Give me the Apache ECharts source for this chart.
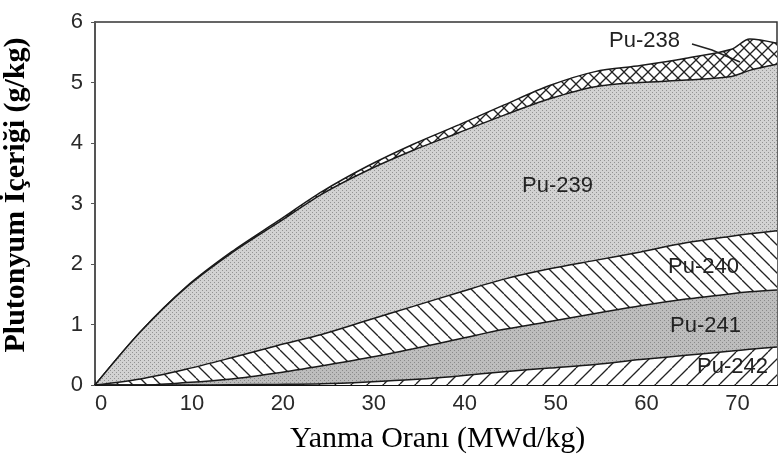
<!DOCTYPE html>
<html>
<head>
<meta charset="utf-8">
<script src="https://cdn.jsdelivr.net/npm/echarts@6/dist/echarts.min.js"></script>
<style>
  html, body { margin: 0; padding: 0; background: #fff; }
  #chart { width: 779px; height: 468px; }
</style>
</head>
<body>
<div id="chart"></div>
<script>
// burnup (MWd/kg) and the thickness of each isotope band (g/kg), stacked bottom -> top
const burnup = [0, 5, 10, 15, 20, 25, 30, 35, 40, 45, 50, 55, 60, 65, 70, 72, 75];
const pu242 = [0, 0, 0, 0.005, 0.01, 0.02, 0.05, 0.09, 0.15, 0.22, 0.28, 0.34, 0.42, 0.49, 0.56, 0.59, 0.63];
const pu241 = [0, 0, 0.04, 0.095, 0.19, 0.30, 0.40, 0.51, 0.61, 0.70, 0.77, 0.84, 0.89, 0.93, 0.95, 0.95, 0.94];
const pu240 = [0, 0.10, 0.22, 0.35, 0.45, 0.52, 0.62, 0.70, 0.77, 0.83, 0.87, 0.88, 0.89, 0.93, 0.95, 0.96, 0.98];
const pu239 = [0, 0.78, 1.35, 1.73, 2.02, 2.32, 2.48, 2.58, 2.64, 2.71, 2.81, 2.87, 2.80, 2.69, 2.64, 2.70, 2.75];
const pu238 = [0, 0, 0.01, 0.02, 0.03, 0.04, 0.07, 0.10, 0.13, 0.17, 0.22, 0.25, 0.28, 0.36, 0.45, 0.52, 0.35];

const bandNames = ['Pu-242', 'Pu-241', 'Pu-240', 'Pu-239', 'Pu-238'];
const bands = [pu242, pu241, pu240, pu239, pu238];

// small canvas tiles used as fill patterns
function tile(w, h, draw) {
  const c = document.createElement('canvas');
  c.width = w; c.height = h;
  const g = c.getContext('2d');
  draw(g, w, h);
  return c;
}
function stipple(base, dot) {
  return tile(4, 4, function (g) {
    g.fillStyle = base; g.fillRect(0, 0, 4, 4);
    g.fillStyle = dot; g.fillRect(0, 0, 1, 1); g.fillRect(2, 2, 1, 1);
  });
}
function hatch(size, dir) {
  return tile(size, size, function (g, w, h) {
    g.fillStyle = '#fff'; g.fillRect(0, 0, w, h);
    g.strokeStyle = '#222'; g.lineWidth = 1.3;
    for (let k = -size; k <= size; k += size) {
      if (dir === '\\' || dir === 'x') { g.beginPath(); g.moveTo(k, 0); g.lineTo(k + size, size); g.stroke(); }
      if (dir === '/' || dir === 'x') { g.beginPath(); g.moveTo(k, size); g.lineTo(k + size, 0); g.stroke(); }
    }
  });
}

const fills = [
  { image: hatch(16, '/'), repeat: 'repeat' },
  { image: stipple('#bdbdbd', '#8a8a8a'), repeat: 'repeat' },
  { image: hatch(14, '\\'), repeat: 'repeat' },
  { image: stipple('#d2d2d2', '#929292'), repeat: 'repeat' },
  { image: hatch(12, 'x'), repeat: 'repeat' }
];

// cumulative tops; each band is filled from 0 and the lower bands paint over it
const tops = bands.map(function (arr, i) {
  return burnup.map(function (x, j) {
    let s = 0;
    for (let k = 0; k <= i; k++) s += bands[k][j];
    return [x, +s.toFixed(3)];
  });
});

const series = [];
for (let i = bands.length - 1; i >= 0; i--) {
  series.push({
    name: bandNames[i],
    type: 'line',
    smooth: 0.3,
    symbol: 'none',
    data: tops[i],
    lineStyle: { color: '#1a1a1a', width: 1.5 },
    areaStyle: { color: fills[i], opacity: 1, origin: 'start' },
    z: 2 + (bands.length - i)
  });
}

const labelFont = { fontFamily: 'Liberation Sans, Arial, sans-serif', fontSize: 22, fill: '#222' };

const chart = echarts.init(document.getElementById('chart'));
chart.setOption({
  animation: false,
  grid: { left: 95, right: 2, top: 22, bottom: 83, show: true, borderColor: '#333', borderWidth: 1.5 },
  xAxis: {
    type: 'value', min: 0, max: 75, interval: 10,
    axisLine: { lineStyle: { color: '#111', width: 2 } },
    axisTick: { inside: true, length: 5, lineStyle: { color: '#333' } },
    axisLabel: { color: '#2a2a2a', fontSize: 22, fontFamily: 'Liberation Sans, Arial, sans-serif', margin: 8, padding: [0, 0, 0, 12], showMaxLabel: false },
    splitLine: { show: false }
  },
  yAxis: {
    type: 'value', min: 0, max: 6, interval: 1,
    axisLine: { show: true, lineStyle: { color: '#555', width: 2 } },
    axisTick: { show: true, length: 4, lineStyle: { color: '#555' } },
    axisLabel: { color: '#2a2a2a', fontSize: 22, fontFamily: 'Liberation Sans, Arial, sans-serif', margin: 12 },
    splitLine: { show: false }
  },
  series: series,
  graphic: [
    { type: 'text', left: 609, top: 30, style: Object.assign({ text: 'Pu-238' }, labelFont), z: 10 },
    { type: 'polyline', shape: { points: [[692, 44], [712, 50], [740, 62]] }, style: { stroke: '#222', lineWidth: 1.5, fill: null }, z: 10 },
    { type: 'text', left: 522, top: 175, style: Object.assign({ text: 'Pu-239' }, labelFont), z: 10 },
    { type: 'text', left: 668, top: 256, style: Object.assign({ text: 'Pu-240' }, labelFont), z: 10 },
    { type: 'text', left: 670, top: 315, style: Object.assign({ text: 'Pu-241' }, labelFont), z: 10 },
    { type: 'text', left: 697, top: 356, style: Object.assign({ text: 'Pu-242' }, labelFont), z: 10 },
    {
      type: 'text', left: 290, top: 424,
      style: { text: 'Yanma Oranı (MWd/kg)', fontFamily: 'Liberation Serif, Times New Roman, serif', fontSize: 30, fill: '#000' }
    },
    {
      type: 'text', x: 16, y: 195, rotation: Math.PI / 2,
      style: { text: 'Plutonyum İçeriği (g/kg)', fontFamily: 'Liberation Serif, Times New Roman, serif', fontSize: 30, fontWeight: 'bold', fill: '#000', align: 'center', verticalAlign: 'middle' }
    }
  ]
});
</script>
</body>
</html>
